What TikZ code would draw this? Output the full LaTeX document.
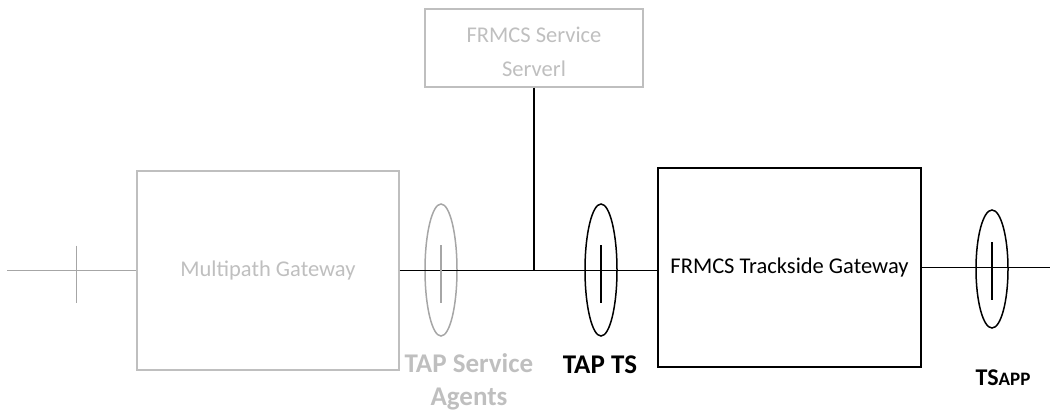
\documentclass[tikz,border=0pt]{standalone}
\usepackage{fontspec}
\setmainfont{Carlito}
\usetikzlibrary{positioning,shapes.geometric}
\definecolor{lightline}{HTML}{BFBFBF}
\definecolor{midline}{HTML}{A6A6A6}
\tikzset{%
	block/.style = {draw, rectangle, line width=1.2pt, inner sep=0pt, text centered, font=\fontsize{22.5}{34}\selectfont},
	faded/.style = {draw=lightline, text=lightline},
	iface/.style = {draw, ellipse, line width=1.5pt, minimum width=32pt, minimum height=132pt, inner sep=0pt},
	tag/.style   = {font=\bfseries\fontsize{27}{33}\selectfont, align=center},
	link/.style  = {line width=1.7pt},
}

\begin{document}
\begin{tikzpicture}[x=1pt,y=-1pt]
	\useasboundingbox (0,0) rectangle (1050,415);
	\node [block,faded,align=center,text height=57.5pt,minimum width=218pt,minimum height=78pt] (srv) at (534,48) {FRMCS Service\\Serverl};
	\node [block,faded,minimum width=262pt,minimum height=199pt] (mpg) at (268,270.5) {Multipath Gateway};
	\node [block,minimum width=263pt,minimum height=199pt] (tsg) at (789.5,267.5) {FRMCS Trackside Gateway};
	
	\node [iface,draw=midline] (tapsa) at (441,270) {};
	\node [iface] (tapts) at (601,270) {};
	\node [iface,minimum height=118pt] (tsapp) at (992,269) {};
	
	\coordinate [left=129pt of mpg.west] (west);
	\coordinate [right=129pt of tsg.east] (east);
	\coordinate (junc) at (srv.south |- mpg.east);
	
	\draw [midline,line width=1.2pt] (west) -- (mpg);
	\draw [midline,line width=1.2pt] (west) ++(69,-25) -- ++(0,57);
	\draw [link] (mpg.east) -- (mpg.east -| tsg.west);
	\draw [link] (srv) -- (junc);
	\draw [link] (tsg) -- (east);
	
	\draw [link,midline] (tapsa.center) ++(0,-25) -- ++(0,58);
	\draw [link] (tapts.center) ++(0,-25) -- ++(0,58);
	\draw [link] (tsapp.center) ++(0,-27) -- ++(0,58);
	
	\node [tag,text=lightline] (tapsalbl) at (469,382) {TAP Service\\Agents};
	\node [tag] (taptslbl) at (600,365) {TAP TS};
	\node [tag] (tsapplbl) at (1003,378) {\fontsize{24}{28}\selectfont TS\fontsize{19}{24}\selectfont APP};
\end{tikzpicture}
\end{document}
